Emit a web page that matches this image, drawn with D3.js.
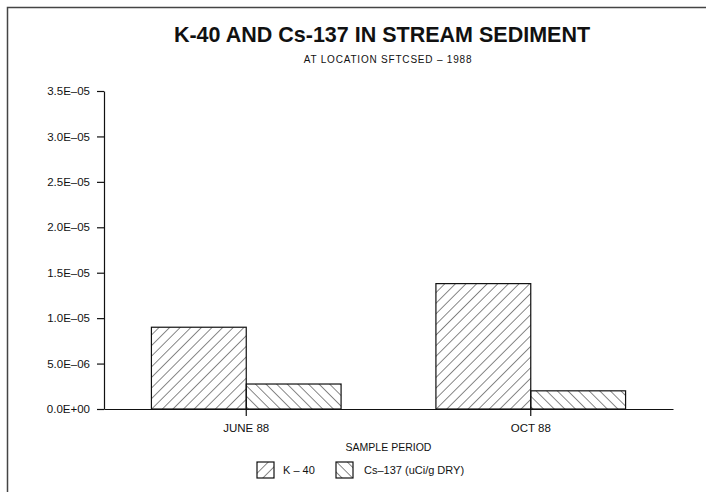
<!DOCTYPE html>
<html>
<head>
<meta charset="utf-8">
<script src="https://cdn.jsdelivr.net/npm/d3@7"></script>
<style>
  body { margin: 0; background: #fff; }
  text { font-family: "Liberation Sans", Arial, sans-serif; fill: #111; }
</style>
</head>
<body>
<div id="chart"></div>
<script>
const width = 706;
const height = 492;

const periods = ["JUNE 88", "OCT 88"];
const seriesNames = ["K-40", "Cs-137 (uCi/g DRY)"];
const k40Values = [9.0e-6, 1.38e-5];
const cs137Values = [2.75e-6, 2.0e-6];
const yTicks = [0, 5e-6, 1e-5, 1.5e-5, 2e-5, 2.5e-5, 3e-5, 3.5e-5];
const yTickLabels = ["0.0E+00", "5.0E\u201306", "1.0E\u201305", "1.5E\u201305", "2.0E\u201305", "2.5E\u201305", "3.0E\u201305", "3.5E\u201305"];

const margin = { top: 91, right: 33, bottom: 83, left: 104 };

const svg = d3.select("#chart").append("svg")
    .attr("width", width)
    .attr("height", height);

// hatch patterns
const defs = svg.append("defs");
function hatch(id, angle) {
    const p = defs.append("pattern")
        .attr("id", id)
        .attr("patternUnits", "userSpaceOnUse")
        .attr("width", 7.5)
        .attr("height", 7.5)
        .attr("patternTransform", `rotate(${angle})`);
    p.append("line")
        .attr("x1", 0).attr("y1", 0)
        .attr("x2", 0).attr("y2", 7.5)
        .attr("stroke", "#111")
        .attr("stroke-width", 1);
}
hatch("hatchK", 45);
hatch("hatchCs", -45);
const fills = ["url(#hatchK)", "url(#hatchCs)"];

// page frame (left and top edges)
svg.append("path")
    .attr("d", `M7.5,${height} L7.5,7.5 L${width},7.5`)
    .attr("fill", "none")
    .attr("stroke", "#444")
    .attr("stroke-width", 1.5);

// titles
svg.append("text")
    .attr("x", 382)
    .attr("y", 42)
    .attr("text-anchor", "middle")
    .style("font-size", "21.5px")
    .style("font-weight", "bold")
    .text("K-40 AND Cs-137 IN STREAM SEDIMENT");

svg.append("text")
    .attr("x", 388)
    .attr("y", 63)
    .attr("text-anchor", "middle")
    .style("font-size", "10px")
    .style("letter-spacing", "0.8px")
    .text("AT LOCATION SFTCSED  \u2013  1988");

const x0 = d3.scaleBand()
    .domain(periods)
    .range([margin.left, width - margin.right])
    .padding(0);

const x1 = d3.scaleBand()
    .domain(seriesNames)
    .range([0, x0.bandwidth()])
    .paddingInner(0)
    .paddingOuter(0.5);

const y = d3.scaleLinear()
    .domain([0, 3.5e-5])
    .range([height - margin.bottom, margin.top]);

// bars
const rows = periods.map((p, i) => ({ period: p, values: [k40Values[i], cs137Values[i]] }));

const groups = svg.selectAll(".grp")
    .data(rows)
    .enter()
    .append("g")
    .attr("class", "grp")
    .attr("transform", d => `translate(${x0(d.period)},0)`);

groups.selectAll("rect")
    .data(d => d.values.map((v, j) => ({ name: seriesNames[j], value: v, j: j })))
    .enter()
    .append("rect")
    .attr("x", d => x1(d.name))
    .attr("y", d => y(d.value))
    .attr("width", x1.bandwidth())
    .attr("height", d => y(0) - y(d.value))
    .attr("fill", d => fills[d.j])
    .attr("stroke", "#111")
    .attr("stroke-width", 1.2);

// y axis
const yAxis = svg.append("g")
    .attr("transform", `translate(${margin.left},0)`)
    .call(d3.axisLeft(y)
        .tickValues(yTicks)
        .tickFormat((d, i) => yTickLabels[i])
        .tickSize(7)
        .tickSizeOuter(0)
        .tickPadding(7));
yAxis.select(".domain").attr("stroke", "#111").attr("stroke-width", 1.2);
yAxis.selectAll(".tick line").attr("stroke", "#111").attr("stroke-width", 1.2);
yAxis.selectAll(".tick text")
    .style("font-size", "11.5px")
    .style("font-family", "'Liberation Sans', Arial, sans-serif")
    .attr("fill", "#111");

// x axis
const xAxis = svg.append("g")
    .attr("transform", `translate(0,${height - margin.bottom})`)
    .call(d3.axisBottom(x0)
        .tickSize(7)
        .tickSizeOuter(0)
        .tickPadding(8));
xAxis.select(".domain").attr("stroke", "#111").attr("stroke-width", 1.2);
xAxis.selectAll(".tick line").attr("stroke", "#111").attr("stroke-width", 1.2);
xAxis.selectAll(".tick text")
    .style("font-size", "11.5px")
    .style("font-family", "'Liberation Sans', Arial, sans-serif")
    .attr("fill", "#111");

svg.append("text")
    .attr("x", (margin.left + width - margin.right) / 2)
    .attr("y", 451)
    .attr("text-anchor", "middle")
    .style("font-size", "10.5px")
    .text("SAMPLE PERIOD");

// legend
const legendItems = [
    { name: seriesNames[0], x: 257 },
    { name: seriesNames[1], x: 336 }
];
const legend = svg.selectAll(".leg")
    .data(legendItems)
    .enter()
    .append("g")
    .attr("class", "leg")
    .attr("transform", d => `translate(${d.x},462)`);

legend.append("rect")
    .attr("width", 17)
    .attr("height", 16)
    .attr("fill", (d, i) => fills[i])
    .attr("stroke", "#111")
    .attr("stroke-width", 1.2);

legend.append("text")
    .attr("x", (d, i) => i === 0 ? 26 : 28)
    .attr("y", 12)
    .style("font-size", "11px")
    .text(d => d.name.replace("-", " \u2013 ").replace("Cs \u2013 ", "Cs\u2013"));
</script>
</body>
</html>
